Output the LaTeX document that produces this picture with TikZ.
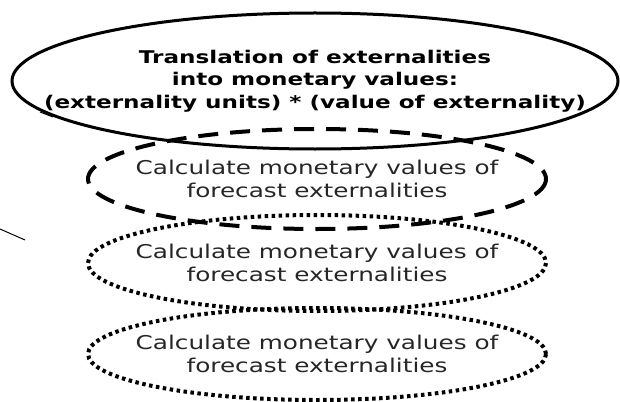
\documentclass[tikz,border=0pt]{standalone}
\usepackage{fontspec}
\setmainfont{DejaVu Sans}
\newfontfamily\headfont[FakeStretch=1.32]{DejaVu Sans}
\newfontfamily\bodyfont[FakeStretch=1.3]{DejaVu Sans}
\begin{document}
\begin{tikzpicture}[x=1pt,y=-1pt,
  solidring/.style={draw=black,line width=3pt},
  dashring/.style={draw=black,line width=4pt,dash pattern=on 20pt off 12pt},
  dotring/.style={draw=black,line width=4pt,dash pattern=on 3.5pt off 3.5pt},
  headtext/.style={align=center,font=\headfont\fontsize{17.5}{22.5}\selectfont\bfseries,inner sep=0pt},
  bodytext/.style={align=center,font=\bodyfont\fontsize{19}{23}\selectfont,inner sep=0pt,text=black!85},
  stroke/.style={draw=black,line width=1pt}]
\useasboundingbox (0,0) rectangle (620,401);
\fill[white] (0,0) rectangle (620,401);
% top ellipse
\node[headtext] (top) at (315,81) {Translation of externalities\\into monetary values:\\(externality units) * (value of externality)};
\draw[solidring] (top.center) ellipse [x radius=303, y radius=68];
% dashed ellipse
\node[bodytext] (calc1) at (317,179) {Calculate monetary values of\\forecast externalities};
\draw[dashring] (calc1.center) ellipse [x radius=229, y radius=50];
% dotted ellipse 2
\node[bodytext] (calc2) at (317,263) {Calculate monetary values of\\forecast externalities};
\draw[dotring] (calc2.center) ellipse [x radius=229, y radius=48];
% dotted ellipse 3
\node[bodytext] (calc3) at (317,354) {Calculate monetary values of\\forecast externalities};
\draw[dotring] (calc3.center) ellipse [x radius=229, y radius=46];
% stray line fragments
\coordinate (fragA) at (0,229);
\coordinate (fragB) at (25,240);
\draw[stroke] (fragA) -- (fragB);
\coordinate (tickA) at (40,112);
\coordinate (tickB) at (53,117);
\draw[stroke] (tickA) -- (tickB);
\end{tikzpicture}
\end{document}
